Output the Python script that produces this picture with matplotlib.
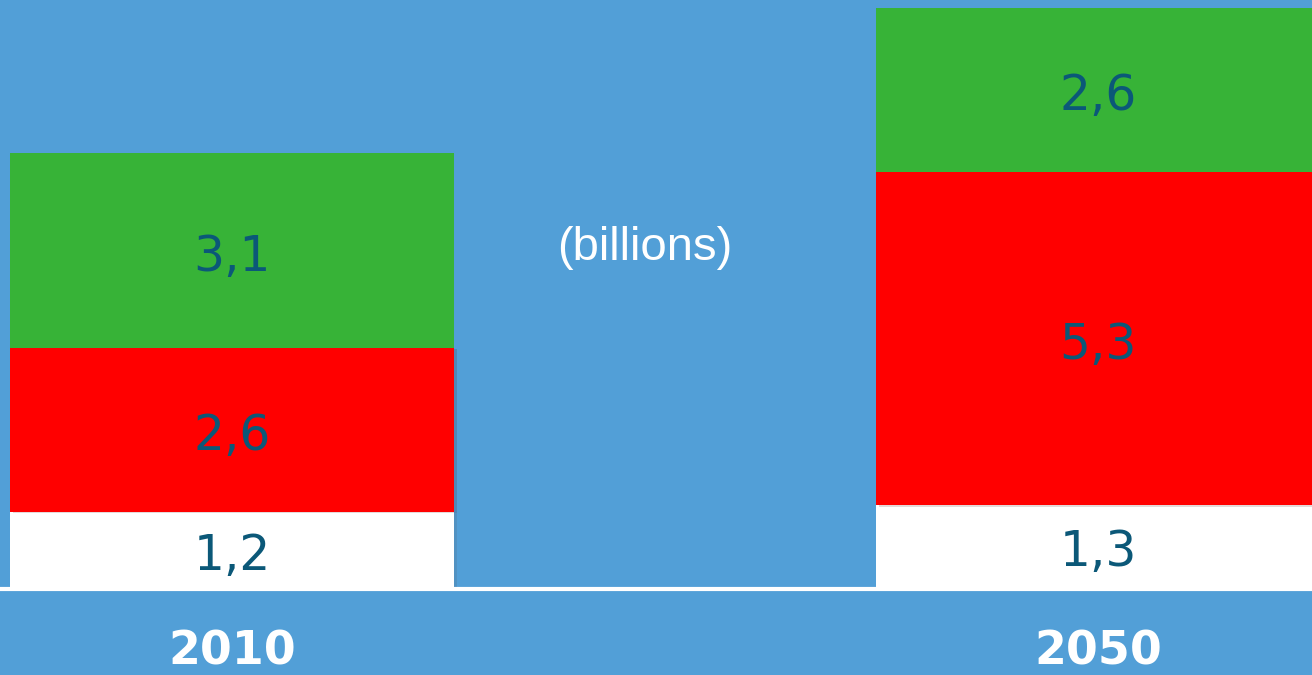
import matplotlib.pyplot as plt
import matplotlib.patheffects as pe

# population by group (billions)
years = ["2010", "2050"]
white_vals = [1.2, 1.3]
red_vals = [2.6, 5.3]
green_vals = [3.1, 2.6]
labels_white = ["1,2", "1,3"]
labels_red = ["2,6", "5,3"]
labels_green = ["3,1", "2,6"]

bg = "#529fd7"
txt = "#0b5878"

fig = plt.figure(figsize=(13.12, 6.75), dpi=100, facecolor=bg)
ax = fig.add_axes([0, 88 / 675, 1, 587 / 675])
ax.set_facecolor(bg)

x = [0, 1]
w = 0.5127
shadow = [pe.SimplePatchShadow(offset=(2, -1), alpha=0.15), pe.Normal()]

b1 = ax.bar(x, white_vals, width=w, color="white", path_effects=shadow)
bottom2 = white_vals
b2 = ax.bar(x, red_vals, width=w, bottom=bottom2, color="#ff0000",
            path_effects=shadow)
bottom3 = [a + b for a, b in zip(white_vals, red_vals)]
b3 = ax.bar(x, green_vals, width=w, bottom=bottom3, color="#37b337")

dy = -0.1
for i in x:
    ax.text(i, white_vals[i] / 2 + dy, labels_white[i], ha="center",
            va="center", fontsize=35, color=txt)
    ax.text(i, bottom2[i] + red_vals[i] / 2 + dy, labels_red[i], ha="center",
            va="center", fontsize=35, color=txt)
    ax.text(i, bottom3[i] + green_vals[i] / 2 + dy, labels_green[i],
            ha="center", va="center", fontsize=35, color=txt)
    ax.text(i, -1.04, years[i], ha="center", va="center", fontsize=33,
            fontweight="bold", color="white", clip_on=False)

ax.axhline(-0.03, color="white", lw=3, clip_on=False)

ax.text(0.477, 5.39, "(billions)", ha="center", va="center", fontsize=34,
        color="white", family="Liberation Sans")

ax.set_xlim(-0.268, 1.2471)
ax.set_ylim(0, 9.332)
ax.set_axis_off()

fig.savefig("out.png", dpi=100, facecolor=bg)
